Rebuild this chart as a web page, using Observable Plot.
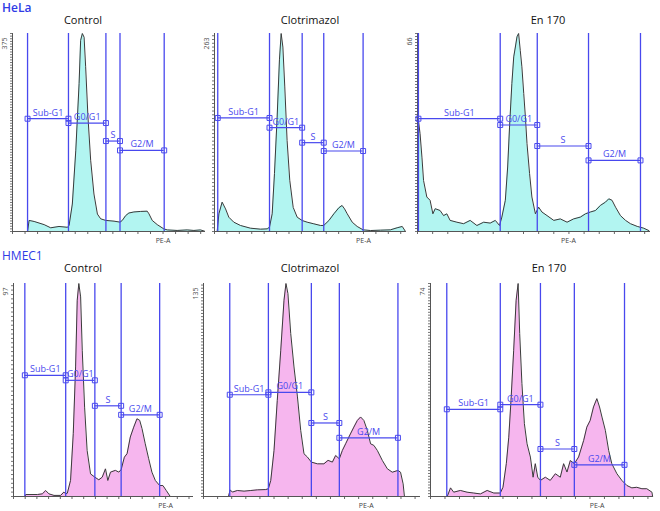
<!DOCTYPE html>
<html>
<head>
<meta charset="utf-8">
<script src="https://cdn.jsdelivr.net/npm/d3@7"></script>
<script src="https://cdn.jsdelivr.net/npm/@observablehq/plot@0.6"></script>
<style>
  body { margin: 0; background: white; }
  #fig { position: relative; width: 660px; height: 511px; background: white; font-family: "Open Sans", sans-serif; overflow: hidden; }
  .ttl { position: absolute; transform: translate(-50%, -50%); font-size: 11px; line-height: 14px; color: #111; white-space: nowrap; }
  .row { position: absolute; color: #2f3be6; font-size: 12px; line-height: 13px; white-space: nowrap; }
</style>
</head>
<body>
<div id="fig"></div>
<script>
// ---------- data ----------
const cellLines = ["HeLa", "HMEC1"];
const panelTitles = ["Control", "Clotrimazol", "En 170", "Control", "Clotrimazol", "En 170"];
const gateNames = ["Sub-G1", "G0/G1", "S", "G2/M"];
const yMaxLabels = [375, 263, 66, 97, 135, 74];
const peLabelAt = [78, 78, 64.8, 84.5, 75, 74.7];

// HeLa Control
const helaCtrlCh = [7.8,8.6,11.2,16.4,19.8,24.1,28.4,29.3,31.0,32.8,34.5,35.3,36.2,37.1,37.9,39.1,40.5,42.2,44.0,45.7,48.3,52.6,55.7,56.9,58.6,60.3,62.9,66.4,69.8,70.7,72.4,75.0,78.4,80.2,85.3,90.5,94.0,97.4,99.5];
const helaCtrlCount = [0,21,19,13,7,9.5,8,11,52,154,280,362,375,368,312,217,135,71,33,24,21,19.6,17.7,21,30,35,37,38,38.5,33.5,21,13,5,3,2,3,2,3,0.6];
const helaCtrlGates = [7.8, 29.0, 48.4, 55.7, 78.6];
const helaCtrlLevels = [213.6, 205.4, 171.3, 153.6];

// HeLa Clotrimazol
const helaClotCh = [1.4,2.3,4.0,5.8,7.5,10.1,13.6,18.8,24.1,27.6,28.8,30.2,31.4,32.8,34.0,34.9,35.8,36.8,38.0,39.4,41.2,43.3,45.9,48.5,52.0,55.5,57.2,59.9,62.5,65.1,66.8,68.1,69.5,72.1,74.7,77.8,81.7,86.9,92.1,95.6,98.3,100];
const helaClotCount = [0,23.5,39,30,19,12.4,8,4.4,3.1,3.5,5.8,23.5,77,152,228,263,245,192,121,68,32,19,14.6,12.4,10.2,8,8,14.6,23.5,31.5,34.6,30,23.5,12.4,6.7,2.2,1.3,1.8,2.2,4.9,6.7,0];
const helaClotGates = [1.7, 28.8, 45.9, 57.2, 77.8];
const helaClotLevels = [150.8, 137.9, 118, 106.9];

// HeLa En 170
const helaEnCh = [0.4,1.1,1.9,2.6,4.0,5.4,6.6,7.6,9.7,11.2,12.6,14.0,16.9,19.8,22.6,25.5,28.4,31.2,33.4,35.2,36.2,37.7,38.7,39.5,40.5,41.3,42.0,42.7,43.4,44.1,44.8,45.6,46.3,47.0,48.1,49.1,50.6,52.0,53.4,55.6,58.5,61.3,64.2,67.0,69.9,72.1,74.2,76.4,78.5,80.7,82.1,83.5,85.0,87.1,89.3,91.4,94.3,97.1,99.3];
const helaEnCount = [37,32.6,24.8,17,11.5,10.4,5.9,7.6,7,5.3,5.9,3.7,3.1,2.6,3.7,2,3.1,2.8,3.7,2,4.8,10.4,21.5,34.8,49.3,58.2,61.5,64.9,66,60.4,54.9,46,38.2,29.3,19.3,11.5,5.9,8.1,6.5,5.3,3.7,4.2,3.1,4.2,4.8,5.9,6.5,7,8.7,9.8,10.9,10.4,8.1,5.3,3.7,2.6,1.7,1.1,0.3];
const helaEnGates = [0.4, 35.5, 51.4, 73.4, 95.7];
const helaEnLevels = [37.6, 35.5, 28.5, 23.7];

// HMEC1 Control
const hmecCtrlCh = [6.3,6.8,13.3,16.0,17.9,19.7,22.5,26.2,28.0,29.0,29.9,31.7,33.2,34.5,35.4,36.3,37.3,38.2,39.5,40.9,42.8,45.2,47.4,49.3,51.1,52.4,53.9,56.6,58.5,59.8,61.6,63.1,64.9,66.8,68.6,70.1,71.4,73.2,75.1,76.9,78.8,81.2,83.0,84.9,87.1];
const hmecCtrlCount = [0,0.9,0.9,1.2,2.7,1.2,0.5,0.5,2,1.2,1.5,7.3,28.6,59,89.4,97,90.9,66.6,40.7,21,10.3,8.8,7.6,8.8,12.6,7.3,11.1,11.9,11.1,12.2,17.9,19.5,27.1,31.6,35.4,34.7,30.9,24,17.2,11.1,7.3,5,5,2.7,0];
const hmecCtrlGates = [6.3, 29.0, 45.2, 59.8, 81.2];
const hmecCtrlLevels = [55.2, 52.9, 41.3, 37.2];

// HMEC1 Clotrimazol
const hmecClotCh = [11.5,12.3,13.3,15.6,18.7,21.8,24.8,28.7,29.9,31.0,32.5,34.0,35.6,37.1,38.0,38.9,40.2,41.7,43.3,44.8,46.3,47.9,49.7,52.5,55.5,57.4,59.4,60.9,62.6,64.0,65.5,67.0,69.3,70.9,72.4,73.9,75.5,77.0,78.5,80.1,82.4,84.7,87.0,89.6,90.8,92.0,92.6];
const hmecClotCount = [0,4.2,2.8,3.8,3.4,3.8,4.2,4.4,4.9,10.2,29.2,60.9,92.7,124.4,135,128.7,103.3,82.1,63.1,41.9,27.1,25,21.8,20.7,20.7,22.9,21.8,26,23.9,29.2,33.4,37.7,44,48.2,50.4,48.2,41.9,33.4,32.4,29.2,22.9,17.6,15.4,16.5,15.4,8,0];
const hmecClotGates = [12.1, 29.9, 49.7, 62.6, 89.6];
const hmecClotLevels = [64.5, 66, 46.6, 37.2];

// HMEC1 En 170
const hmecEnCh = [7.5,9.0,10.4,13.4,16.4,19.4,22.4,25.4,28.4,31.3,32.5,34.0,35.1,36.1,37.3,38.4,39.3,40.0,41.0,42.1,43.3,44.8,46.0,47.0,48.1,49.3,51.5,53.7,56.0,58.2,59.7,61.2,62.7,64.5,66.4,68.7,70.1,71.6,73.1,74.6,75.8,76.9,78.4,79.9,81.3,83.6,85.8,88.1,90.3,92.5,94.8,97.0,99.3,99.6];
const hmecEnCount = [0,3,1.5,2.1,1.5,1.2,0.9,2.1,1.2,1.2,3.2,11.4,20.6,33.4,50.8,68.2,74,56.6,39.2,25.3,18.3,13.7,6.7,11.4,6.7,5.6,6.7,5.6,7.9,6.7,11.4,8.5,12.5,11.4,13.7,19.5,24.1,26.4,31.1,34,31.1,27.6,23,16,11.4,7.9,5.6,3.8,3,3.2,2.7,2.7,1.5,0];
const hmecEnGates = [7.3, 31.3, 49.3, 64.5, 87.0];
const hmecEnLevels = [30.3, 31.9, 16.5, 11.0];

// ---------- layout / style ----------
const BLUE = "#4848ee";
const CYAN = "#b2f5f1";
const PINK = "#f6b6ee";
const frames = [
  {L: 12, R: 205, T: 33, B: 231},
  {L: 214, R: 405, T: 33, B: 231},
  {L: 417, R: 650, T: 33, B: 231},
  {L: 13, R: 193, T: 283, B: 496},
  {L: 203, R: 420, T: 283, B: 496},
  {L: 430, R: 653, T: 283, B: 496}
];
const titlePos = [[83, 20], [310, 20], [548, 20], [83, 268], [310, 268], [549, 268]];

const panels = [
  {ch: helaCtrlCh, count: helaCtrlCount, gates: helaCtrlGates, levels: helaCtrlLevels, fill: CYAN},
  {ch: helaClotCh, count: helaClotCount, gates: helaClotGates, levels: helaClotLevels, fill: CYAN},
  {ch: helaEnCh, count: helaEnCount, gates: helaEnGates, levels: helaEnLevels, fill: CYAN},
  {ch: hmecCtrlCh, count: hmecCtrlCount, gates: hmecCtrlGates, levels: hmecCtrlLevels, fill: PINK},
  {ch: hmecClotCh, count: hmecClotCount, gates: hmecClotGates, levels: hmecClotLevels, fill: PINK},
  {ch: hmecEnCh, count: hmecEnCount, gates: hmecEnGates, levels: hmecEnLevels, fill: PINK}
];

const fig = document.getElementById("fig");

function addDiv(cls, text, x, y) {
  const d = document.createElement("div");
  d.className = cls;
  d.textContent = text;
  d.style.left = x + "px";
  d.style.top = y + "px";
  fig.appendChild(d);
  return d;
}

addDiv("row", cellLines[0], 2, 1).style.fontWeight = "600";
addDiv("row", cellLines[1], 2, 249);

panels.forEach((p, k) => {
  const f = frames[k];
  const max = yMaxLabels[k];
  const hist = p.ch.map((c, i) => ({c, n: p.count[i]}));
  const segs = gateNames.map((name, i) => ({name, x1: p.gates[i], x2: p.gates[i + 1], y: p.levels[i]}));
  const ends = segs.flatMap(s => [{x: s.x1, y: s.y}, {x: s.x2, y: s.y}]);
  const mL = 14, mR = 4, mT = 4, mB = 16;
  const w = f.R - f.L + mL + mR, h = f.B - f.T + mT + mB;
  const svg = Plot.plot({
    width: w, height: h,
    marginLeft: mL, marginRight: mR, marginTop: mT, marginBottom: mB,
    x: {domain: [0, 100]},
    y: {domain: [0, max]},
    style: {background: "transparent", overflow: "visible", fontFamily: "Open Sans"},
    marks: [
      Plot.areaY(hist, {x: "c", y: "n", fill: p.fill}),
      Plot.lineY(hist, {x: "c", y: "n", stroke: "#3a3a3a", strokeWidth: 1}),
      Plot.axisX({ticks: d3.range(0, 101, 6.5), tickSize: 3, tickFormat: () => "", label: null, stroke: "#666"}),
      Plot.axisY({ticks: 60, tickSize: 2, tickFormat: () => "", label: null, stroke: "#777"}),
      Plot.ruleY([0], {stroke: "#555"}),
      Plot.ruleX([0], {stroke: "#555"}),
      Plot.ruleX(p.gates, {x: d => d, y1: () => 0, y2: () => max, stroke: BLUE, strokeWidth: 1.3}),
      Plot.ruleY(segs, {x1: "x1", x2: "x2", y: "y", stroke: BLUE, strokeWidth: 1.2}),
      Plot.dot(ends, {x: "x", y: "y", symbol: "square", r: 2.8, stroke: BLUE, fill: "none", strokeWidth: 1}),
      Plot.text(segs, {x: d => (d.x1 + d.x2) / 2, y: "y", text: "name", dy: -6, fill: BLUE, fontSize: 9}),
      Plot.text([{x: 0, y: max, t: String(max)}], {x: "x", y: "y", text: "t", rotate: -90, textAnchor: "end", dx: -8, dy: 4, fontSize: 7, fill: "#555"}),
      Plot.text([{x: peLabelAt[k], y: 0}], {x: "x", y: "y", text: () => "PE-A", dy: 9, fontSize: 7, fill: "#444"})
    ]
  });
  svg.style.position = "absolute";
  svg.style.left = (f.L - mL) + "px";
  svg.style.top = (f.T - mT) + "px";
  fig.appendChild(svg);
  addDiv("ttl", panelTitles[k], titlePos[k][0], titlePos[k][1]);
});
</script>
</body>
</html>
